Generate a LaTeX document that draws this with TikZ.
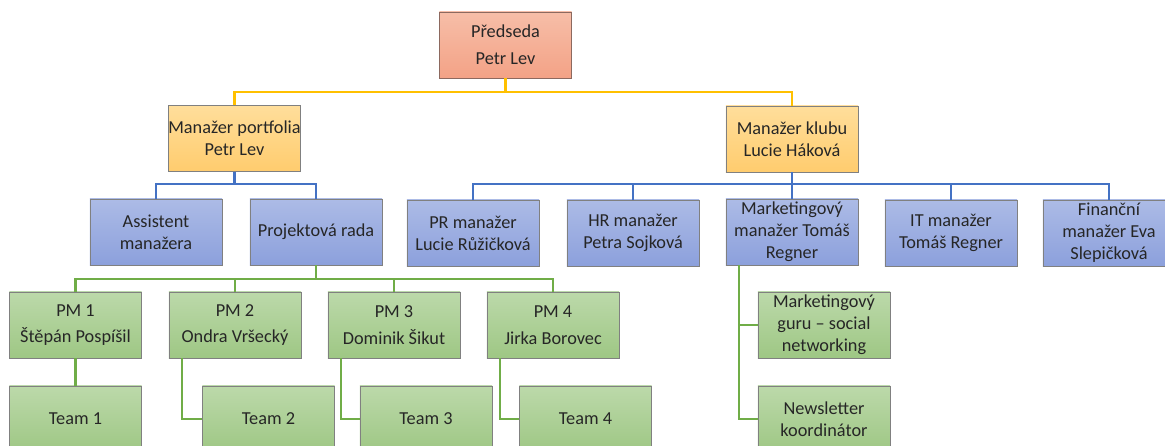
\documentclass[tikz,border=0pt]{standalone}
\usepackage{fontspec}
\setmainfont{Carlito}
\usepackage{xcolor}
\usepackage{tikz}
\usetikzlibrary{calc}
\usetikzlibrary{positioning}
\tikzset{orgbox/.style={shape=rectangle,draw=black!50,line width=0.6pt,align=center,inner sep=0,minimum width=3.3cm,minimum height=1.65cm,text=black!85,font=\fontsize{13}{15.6}\selectfont}}
\tikzset{chairbox/.style={orgbox,top color=lososA,bottom color=lososB,draw=lososC}}
\tikzset{headbox/.style={orgbox,top color=zlutaA,bottom color=zlutaB}}
\tikzset{deptbox/.style={orgbox,top color=modraA,bottom color=modraB}}
\tikzset{teambox/.style={orgbox,top color=zelenaA,bottom color=zelenaB}}
\tikzset{yline/.style={draw=zluta,line width=1.5pt}}
\tikzset{bline/.style={draw=modra,line width=1.5pt}}
\tikzset{gline/.style={draw=zelena,line width=1.5pt}}

\begin{document}
\begin{tikzpicture}[x=0.025cm,y=-0.025cm]

	\definecolor{lososA}{RGB}{247,190,168}
	\definecolor{lososB}{RGB}{243,162,134}
	\definecolor{lososC}{RGB}{140,105,95}
	\definecolor{zlutaA}{RGB}{255,222,155}
	\definecolor{zlutaB}{RGB}{255,204,110}
	\definecolor{modraA}{RGB}{172,187,230}
	\definecolor{modraB}{RGB}{140,160,220}
	\definecolor{zelenaA}{RGB}{188,217,170}
	\definecolor{zelenaB}{RGB}{158,199,132}
	\definecolor{zluta}{RGB}{255,192,0}
	\definecolor{modra}{RGB}{68,114,196}
	\definecolor{zelena}{RGB}{112,173,71}

	\clip (0,0) rectangle (1165,446);

	% vedeni
	\node [chairbox] (pred) at (505.5,45) {P\v{r}edseda\\[3.4pt]Petr Lev};

	\node [headbox] (mp) at (234.5,138.5) {Mana\v{z}er portfolia\\Petr Lev};
	\node [headbox] (mk) at (792,139) {Mana\v{z}er klubu\\Lucie H\'akov\'a};

	% portfolio
	\node [deptbox] (asist) at (156,232) {Assistent\\mana\v{z}era};
	\node [deptbox] (prada) at (316,232) {Projektov\'a rada};

	% klub
	\node [deptbox] (pr) at (473,233) {PR mana\v{z}er\\Lucie R\r{u}\v{z}i\v{c}kov\'a};
	\node [deptbox] (hr) at (633,233) {HR mana\v{z}er\\Petra Sojkov\'a};
	\node [deptbox] (mkt) at (792,232) {Marketingov\'y\\mana\v{z}er Tom\'a\v{s}\\Regner};
	\node [deptbox] (it) at (951,233) {IT mana\v{z}er\\Tom\'a\v{s} Regner};
	\node [deptbox] (fin) at (1109,233) {Finan\v{c}n\'i\\mana\v{z}er Eva\\Slepi\v{c}kov\'a};

	% projektovi manazeri
	\node [teambox] (pm1) at (75.5,325) {PM 1\\[3.4pt]\v{S}t\v{e}p\'an Posp\'i\v{s}il};
	\node [teambox] (pm2) at (235,325) {PM 2\\[3.4pt]Ondra Vr\v{s}eck\'y};
	\node [teambox] (pm3) at (394,325) {PM 3\\[3.4pt]Dominik \v{S}ikut};
	\node [teambox] (pm4) at (553,325) {PM 4\\[3.4pt]Jirka Borovec};

	\node [teambox] (team1) at (75.5,419) {Team 1};
	\node [teambox] (team2) at (268.5,419) {Team 2};
	\node [teambox] (team3) at (426,419) {Team 3};
	\node [teambox] (team4) at (585.5,419) {Team 4};

	\node [teambox] (guru) at (824,325) {Marketingov\'y\\guru -- social\\networking};
	\node [teambox] (news) at (824,419) {Newsletter\\koordin\'ator};

	% spojnice
	\draw [yline] (pred.south) -- ++(0,14) -| (mp.north);
	\draw [yline] (pred.south) -- ++(0,14) -| (mk.north);

	\draw [bline] (mp.south) -- ++(0,12.5) -| (asist.north);
	\draw [bline] (mp.south) -- ++(0,12.5) -| (prada.north);

	\draw [bline] (mk.south) -- ++(0,12) -| (pr.north);
	\draw [bline] (mk.south) -- ++(0,12) -| (hr.north);
	\draw [bline] (mk.south) -- (mkt.north);
	\draw [bline] (mk.south) -- ++(0,12) -| (it.north);
	\draw [bline] (mk.south) -- ++(0,12) -| (fin.north);

	\draw [gline] (prada.south) -- ++(0,14) -| (pm1.north);
	\draw [gline] (prada.south) -- ++(0,14) -| (pm2.north);
	\draw [gline] (prada.south) -- ++(0,14) -| (pm3.north);
	\draw [gline] (prada.south) -- ++(0,14) -| (pm4.north);

	\draw [gline] (pm1.south) -- (team1.north);
	\draw [gline] ([xshift=0.325cm]pm2.south west) |- (team2.west);
	\draw [gline] ([xshift=0.325cm]pm3.south west) |- (team3.west);
	\draw [gline] ([xshift=0.325cm]pm4.south west) |- (team4.west);

	\draw [gline] ([xshift=0.325cm]mkt.south west) |- (guru.west);
	\draw [gline] ([xshift=0.325cm]mkt.south west) |- (news.west);

\end{tikzpicture}
\end{document}
